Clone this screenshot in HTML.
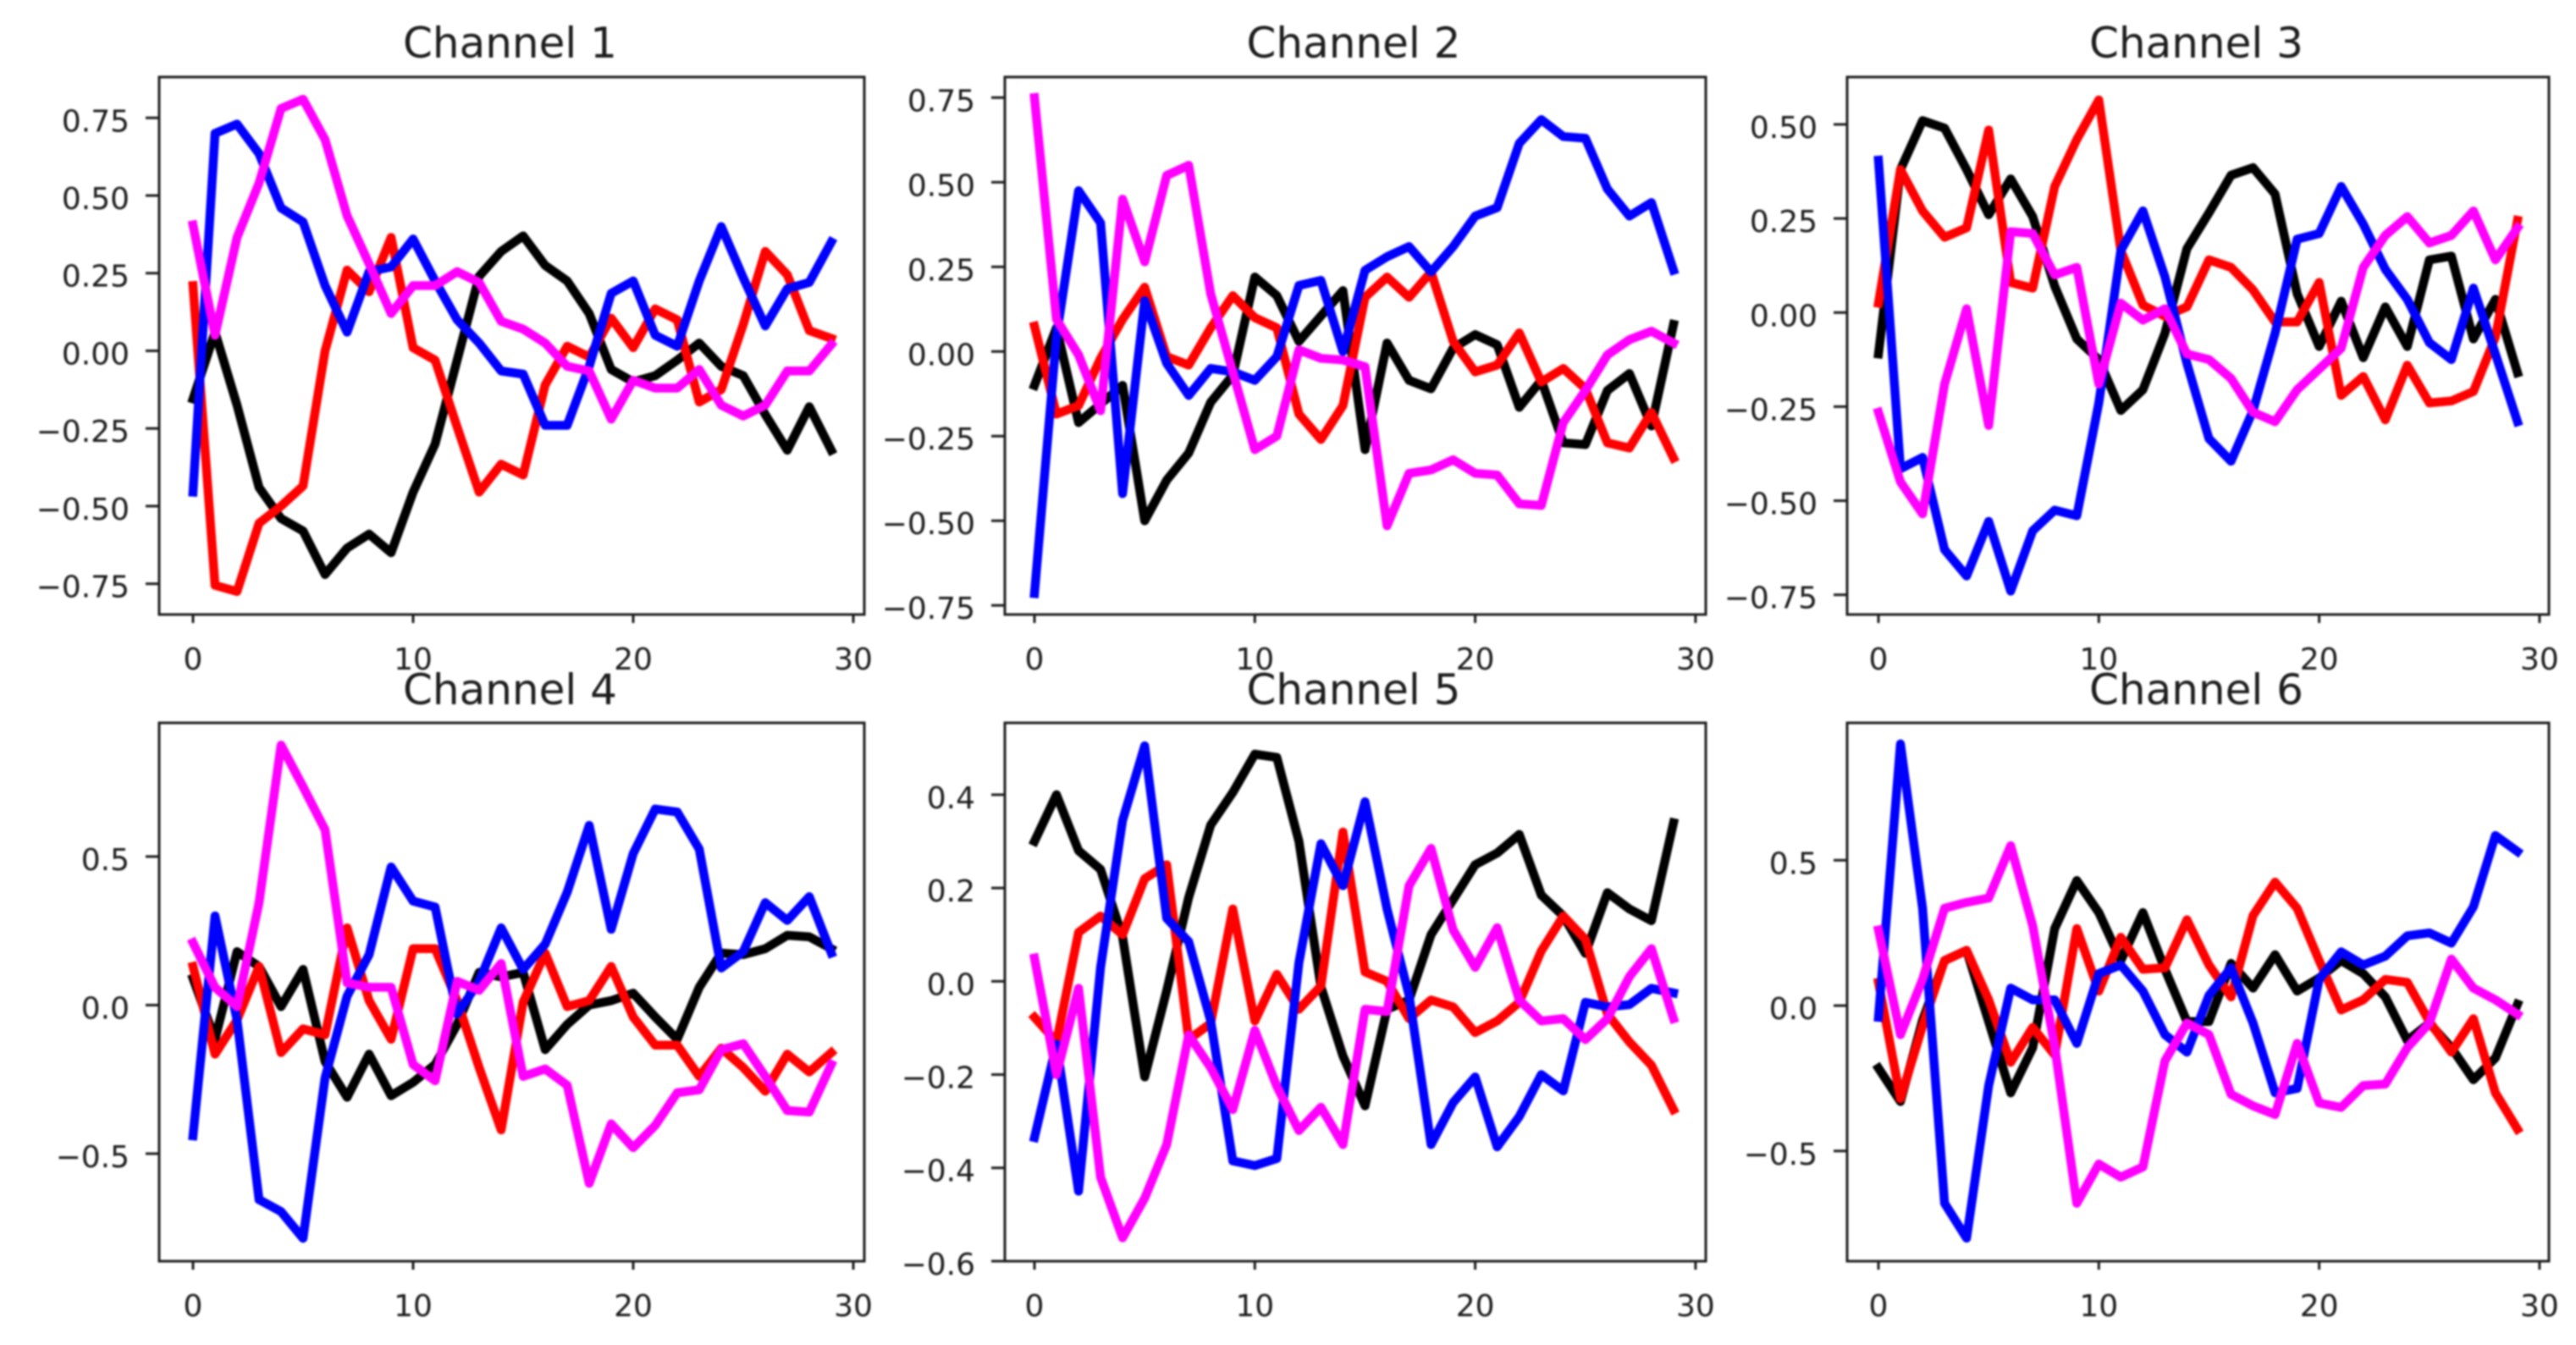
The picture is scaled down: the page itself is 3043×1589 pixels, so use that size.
<!DOCTYPE html>
<html lang="en">
<head>
<meta charset="utf-8">
<title>Channel line charts</title>
<style>
html,body{margin:0;padding:0;background:#fff;}
#chart{display:block;width:3043px;height:1589px;filter:blur(1.1px);}
text{font-family:"DejaVu Sans","Liberation Sans",sans-serif;fill:#1c1c1c;}
</style>
</head>
<body>
<svg id="chart" xmlns="http://www.w3.org/2000/svg" width="3043" height="1589" viewBox="0 0 3043 1589"></svg>
<script>
const xTickValues = [0, 10, 20, 30];

const ch1Black = [-.155,.06,-.175,-.44,-.54,-.58,-.72,-.635,-.59,-.65,-.455,-.30,-.03,.24,.32,.37,.275,.225,.12,-.06,-.10,-.08,-.03,.025,-.05,-.08,-.205,-.32,-.18,-.32];
const ch1Red = [.21,-.755,-.775,-.555,-.50,-.435,0,.26,.19,.365,.01,-.03,-.245,-.455,-.365,-.40,-.11,.015,-.02,.105,.01,.135,.10,-.165,-.125,.085,.32,.245,.065,.04];
const ch1Blue = [-.455,.70,.73,.635,.46,.415,.21,.06,.255,.27,.36,.225,.10,.025,-.065,-.075,-.24,-.24,-.05,.185,.225,.05,.015,.225,.40,.235,.08,.20,.22,.35];
const ch1Magenta = [.405,.05,.365,.54,.78,.81,.68,.435,.28,.12,.21,.21,.255,.22,.095,.07,.025,-.05,-.065,-.22,-.095,-.12,-.12,-.06,-.175,-.21,-.175,-.065,-.065,.02];

const ch2Black = [-.10,.07,-.21,-.155,-.10,-.50,-.38,-.30,-.15,-.07,.22,.165,.03,.105,.18,-.29,.025,-.085,-.11,.01,.05,.02,-.165,-.085,-.27,-.275,-.115,-.065,-.22,.08];
const ch2Red = [.075,-.185,-.16,-.02,.095,.19,-.015,-.04,.07,.165,.10,.07,-.185,-.26,-.16,.16,.22,.16,.235,.03,-.06,-.04,.055,-.09,-.05,-.11,-.27,-.285,-.18,-.315];
const ch2Blue = [-.715,.045,.475,.38,-.42,.15,-.035,-.13,-.05,-.06,-.085,-.015,.195,.21,0,.24,.28,.31,.235,.31,.40,.425,.615,.685,.635,.63,.48,.40,.44,.24];
const ch2Magenta = [.75,.095,-.01,-.175,.45,.265,.52,.55,.17,-.06,-.29,-.25,.005,-.02,-.025,-.045,-.515,-.36,-.35,-.32,-.36,-.365,-.45,-.455,-.21,-.115,-.01,.035,.06,.025];

const ch3Black = [-.11,.38,.51,.49,.38,.26,.355,.255,.07,-.07,-.125,-.26,-.205,-.055,.17,.265,.365,.385,.315,.05,-.09,.03,-.12,.015,-.09,.14,.15,-.07,.035,-.16];
const ch3Red = [.025,.38,.27,.20,.225,.485,.08,.065,.335,.46,.565,.165,.02,-.01,.015,.14,.12,.06,-.025,-.025,.08,-.22,-.17,-.285,-.14,-.24,-.235,-.21,-.065,.245];
const ch3Blue = [.405,-.415,-.385,-.63,-.70,-.555,-.74,-.58,-.525,-.54,-.24,.165,.27,.095,-.135,-.335,-.395,-.26,-.055,.195,.21,.335,.235,.115,.035,-.08,-.125,.065,-.11,-.29];
const ch3Magenta = [-.265,-.45,-.535,-.19,.01,-.30,.215,.21,.10,.12,-.19,.025,-.02,.01,-.11,-.125,-.175,-.265,-.29,-.205,-.15,-.095,.12,.205,.255,.185,.205,.27,.14,.225];

const ch4Black = [.09,-.115,.18,.13,-.005,.12,-.19,-.31,-.165,-.305,-.26,-.20,-.065,.11,.095,.11,-.15,-.065,0,.015,.04,-.04,-.115,.06,.175,.17,.19,.235,.23,.19];
const ch4Red = [.13,-.165,-.05,.13,-.16,-.08,-.10,.26,.015,-.115,.19,.19,.015,-.21,-.42,.01,.175,-.005,.015,.13,-.04,-.135,-.135,-.24,-.145,-.21,-.29,-.165,-.225,-.16];
const ch4Blue = [-.44,.30,-.05,-.655,-.695,-.785,-.245,.03,.17,.465,.35,.33,-.03,.08,.26,.12,.205,.38,.605,.255,.51,.66,.65,.525,.125,.18,.345,.285,.365,.175];
const ch4Magenta = [.21,.06,-.005,.345,.875,.735,.59,.075,.06,.06,-.20,-.255,.08,.05,.14,-.24,-.215,-.27,-.60,-.40,-.48,-.405,-.295,-.285,-.15,-.13,-.24,-.355,-.36,-.20];

const ch5Black = [.30,.40,.28,.24,.095,-.205,-.02,.18,.335,.405,.487,.48,.30,-.012,-.16,-.267,-.06,-.04,.10,.175,.25,.275,.315,.185,.14,.06,.19,.155,.13,.34];
const ch5Red = [-.077,-.13,.105,.14,.10,.22,.25,-.125,-.09,.155,-.085,.015,-.06,-.01,.32,.02,0,-.08,-.04,-.055,-.11,-.085,-.045,.065,.14,.09,-.07,-.13,-.18,-.275];
const ch5Blue = [-.335,-.135,-.45,.03,.345,.505,.135,.085,-.085,-.385,-.395,-.38,.04,.295,.205,.385,.155,-.03,-.35,-.26,-.205,-.355,-.29,-.20,-.235,-.045,-.055,-.05,-.015,-.025];
const ch5Magenta = [.05,-.20,-.015,-.42,-.55,-.465,-.35,-.115,-.185,-.275,-.105,-.225,-.32,-.27,-.35,-.06,-.065,.205,.285,.11,.03,.115,-.04,-.085,-.08,-.125,-.08,.01,.07,-.08];

const ch6Black = [-.215,-.33,-.05,.155,.19,-.055,-.30,-.145,.265,.43,.32,.155,.32,.125,-.055,-.055,.145,.06,.175,.05,.095,.155,.11,.03,-.12,-.06,-.145,-.255,-.18,.005];
const ch6Red = [.08,-.32,-.07,.155,.19,.02,-.195,-.075,-.17,.265,.05,.235,.125,.13,.295,.14,.03,.31,.425,.335,.155,-.015,.02,.09,.08,-.055,-.16,-.045,-.30,-.425];
const ch6Blue = [-.04,.90,.335,-.68,-.80,-.275,.06,.02,.02,-.13,.11,.14,.05,-.10,-.16,.035,.13,-.06,-.30,-.285,.09,.185,.14,.17,.24,.25,.215,.34,.585,.53];
const ch6Magenta = [.26,-.10,.09,.335,.355,.37,.55,.275,-.14,-.68,-.545,-.59,-.555,-.19,-.06,-.10,-.305,-.345,-.375,-.13,-.335,-.35,-.275,-.27,-.145,-.06,.16,.06,.02,-.03];

const ch1YTicks = [-.75,-.5,-.25,0,.25,.5,.75];
const ch2YTicks = [-.75,-.5,-.25,0,.25,.5,.75];
const ch3YTicks = [-.75,-.5,-.25,0,.25,.5];
const ch4YTicks = [-.5,0,.5];
const ch5YTicks = [-.6,-.4,-.2,0,.2,.4];
const ch6YTicks = [-.5,0,.5];

const ch1YLim = [-.849,.8815];
const ch2YLim = [-.777,.8108];
const ch3YLim = [-.8024,.6259];
const ch4YLim = [-.862,.950];
const ch5YLim = [-.6001,.5541];
const ch6YLim = [-.8791,.9725];

const seriesColors = ['#000000','#ff0000','#0000ff','#ff00ff'];
const seriesNames = ['black','red','blue','magenta'];

const channels = [
  {n:1,box:[188,1021,91,726],titleY:68,x0:228,dx:26,dec:2,yt:ch1YTicks,yl:ch1YLim,s:[ch1Black,ch1Red,ch1Blue,ch1Magenta]},
  {n:2,box:[1187,2015,91,726],titleY:68,x0:1222,dx:26.03,dec:2,yt:ch2YTicks,yl:ch2YLim,s:[ch2Black,ch2Red,ch2Blue,ch2Magenta]},
  {n:3,box:[2182,3011,91,726],titleY:68,x0:2219,dx:26.03,dec:2,yt:ch3YTicks,yl:ch3YLim,s:[ch3Black,ch3Red,ch3Blue,ch3Magenta]},
  {n:4,box:[188,1021,854,1490],titleY:832,x0:228,dx:26,dec:1,yt:ch4YTicks,yl:ch4YLim,s:[ch4Black,ch4Red,ch4Blue,ch4Magenta]},
  {n:5,box:[1187,2015,854,1490],titleY:832,x0:1222,dx:26.03,dec:1,yt:ch5YTicks,yl:ch5YLim,s:[ch5Black,ch5Red,ch5Blue,ch5Magenta]},
  {n:6,box:[2182,3011,854,1490],titleY:832,x0:2219,dx:26.03,dec:1,yt:ch6YTicks,yl:ch6YLim,s:[ch6Black,ch6Red,ch6Blue,ch6Magenta]}
];

const svg = document.getElementById('chart');
const NS = 'http://www.w3.org/2000/svg';
const AXIS = '#1c1c1c';

function make(parent, tag, props, content) {
  const node = document.createElementNS(NS, tag);
  for (const k in props) node.setAttribute(k, props[k]);
  if (content !== undefined) node.textContent = content;
  parent.appendChild(node);
  return node;
}

function fmt(v, dec) {
  const s = Math.abs(v).toFixed(dec);
  return v < 0 ? '\u2212' + s : s;
}

channels.forEach(function (c) {
  const [l, r, t, b] = c.box;
  const xScale = function (v) { return c.x0 + v * c.dx; };
  const yScale = function (v) { return b - (v - c.yl[0]) / (c.yl[1] - c.yl[0]) * (b - t); };

  const g = make(svg, 'g', {});
  
  

  const title = make(g, 'text', {x: (l + r) / 2 - 2, y: c.titleY, 'text-anchor': 'middle', 'font-size': 50}, 'Channel ' + c.n);
  
  

  c.s.forEach(function (vals, si) {
    const pts = vals.map(function (v, i) { return xScale(i).toFixed(1) + ',' + yScale(v).toFixed(1); }).join(' ');
    const line = make(g, 'polyline', {points: pts, fill: 'none', stroke: seriesColors[si], 'stroke-width': 10.5, 'stroke-linejoin': 'round', 'stroke-linecap': 'square'});
    
    
  });

  const frame = make(g, 'rect', {x: l, y: t, width: r - l, height: b - t, fill: 'none', stroke: AXIS, 'stroke-width': 3});
  
  

  xTickValues.forEach(function (v) {
    const tick = make(g, 'line', {x1: xScale(v), x2: xScale(v), y1: b, y2: b + 10, stroke: AXIS, 'stroke-width': 3});
    
    
    const label = make(g, 'text', {x: xScale(v), y: b + 65, 'text-anchor': 'middle', 'font-size': 36}, String(v));
    
    
  });

  c.yt.forEach(function (v) {
    const tick = make(g, 'line', {x1: l - 16, x2: l, y1: yScale(v), y2: yScale(v), stroke: AXIS, 'stroke-width': 3});
    
    
    const label = make(g, 'text', {x: l - 35, y: yScale(v) + 16, 'text-anchor': 'end', 'font-size': 36}, fmt(v, c.dec));
    
    
  });
});
</script>
</body>
</html>
